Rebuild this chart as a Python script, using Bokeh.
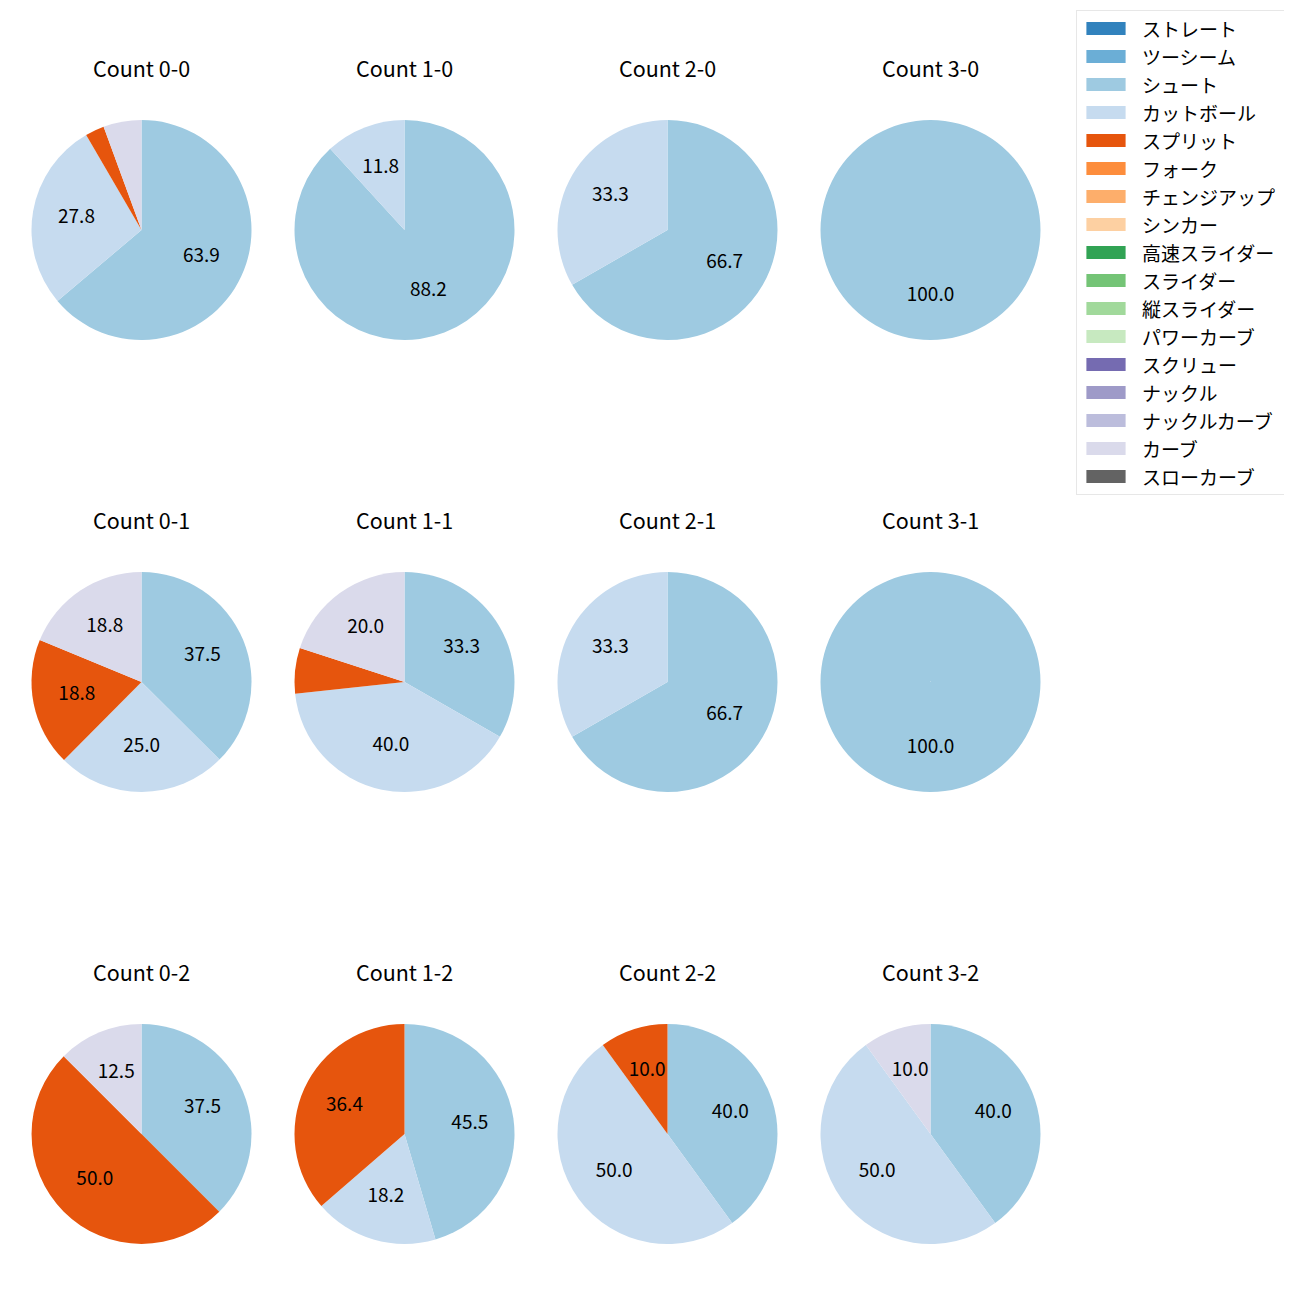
import numpy as np
from bokeh.plotting import figure
from bokeh.models import ColumnDataSource, Range1d, Legend, LegendItem
from bokeh.core.properties import value
from bokeh.embed import file_html
from bokeh.resources import INLINE

# ---- data -------------------------------------------------------------
counts = ["0-0", "1-0", "2-0", "3-0",
          "0-1", "1-1", "2-1", "3-1",
          "0-2", "1-2", "2-2", "3-2"]

pitch_types = ["ストレート", "ツーシーム", "シュート", "カットボール", "スプリット",
               "フォーク", "チェンジアップ", "シンカー", "高速スライダー", "スライダー",
               "縦スライダー", "パワーカーブ", "スクリュー", "ナックル", "ナックルカーブ",
               "カーブ", "スローカーブ"]
pitch_colors = ["#3182bd", "#6baed6", "#9ecae1", "#c6dbef", "#e6550d",
                "#fd8d3c", "#fdae6b", "#fdd0a2", "#31a354", "#74c476",
                "#a1d99b", "#c7e9c0", "#756bb1", "#9e9ac8", "#bcbddc",
                "#dadaeb", "#636363"]

# share (%) of each pitch type per count, in count order above
shoot = [63.9, 88.2, 66.7, 100.0, 37.5, 33.3, 66.7, 100.0, 37.5, 45.5, 40.0, 40.0]
cutball = [27.8, 11.8, 33.3, 0.0, 25.0, 40.0, 33.3, 0.0, 0.0, 18.2, 50.0, 50.0]
split = [2.8, 0.0, 0.0, 0.0, 18.8, 6.7, 0.0, 0.0, 50.0, 36.4, 10.0, 0.0]
curve = [5.6, 0.0, 0.0, 0.0, 18.8, 20.0, 0.0, 0.0, 12.5, 0.0, 0.0, 10.0]

series = {"シュート": shoot, "カットボール": cutball, "スプリット": split, "カーブ": curve}

# ---- layout (image pixel coordinates) ---------------------------------
W = H = 1284
ncols = 4
col_x0, col_dx = 141.0, 263.0
row_y0, row_dy = 229.5, 452.0
R = 110.0
title_dy = -162.5  # title centre relative to pie centre
FONT = "Noto Sans CJK JP"


def Y(img_y):
    return H - img_y


p = figure(width=W, height=H, output_backend="svg", toolbar_location=None,
           x_range=Range1d(0, W), y_range=Range1d(0, H),
           min_border=0, background_fill_color="white", border_fill_color="white")
p.axis.visible = False
p.grid.visible = False
p.outline_line_color = None

# wedges
wedge = {"x": [], "y": [], "start": [], "end": [], "color": []}
labels = {"x": [], "y": [], "text": []}
for i, c in enumerate(counts):
    cx = col_x0 + col_dx * (i % ncols)
    cy = row_y0 + row_dy * (i // ncols)
    vals = [(name, series[name][i]) for name in pitch_types if name in series]
    total = sum(v for _, v in vals)
    cum = 0.0
    for name, v in vals:
        if v <= 0:
            continue
        a0 = 90.0 - 360.0 * cum / total
        cum += v
        a1 = 90.0 - 360.0 * cum / total
        end = np.deg2rad(a0)
        start = np.deg2rad(a1)
        if v / total > 0.9999:
            start = end - 2 * np.pi + 1e-4
        wedge["x"].append(cx)
        wedge["y"].append(Y(cy))
        wedge["start"].append(start)
        wedge["end"].append(end)
        wedge["color"].append(pitch_colors[pitch_types.index(name)])
        if v >= 10:
            mid = np.deg2rad((a0 + a1) / 2.0)
            labels["x"].append(cx + 0.6 * R * np.cos(mid))
            labels["y"].append(Y(cy) + 0.6 * R * np.sin(mid))
            labels["text"].append(f"{v:.1f}")

p.wedge(x="x", y="y", radius=R, start_angle="start", end_angle="end",
        fill_color="color", line_color=None,
        source=ColumnDataSource(wedge))
p.text(x="x", y="y", text="text", source=ColumnDataSource(labels),
       text_align="center", text_baseline="middle", text_font=value(FONT),
       text_font_size="19px", text_color="black", y_offset=-2.5)

titles = {"x": [col_x0 + col_dx * (i % ncols) for i in range(len(counts))],
          "y": [Y(row_y0 + row_dy * (i // ncols) + title_dy) for i in range(len(counts))],
          "text": [f"Count {c}" for c in counts]}
p.text(x="x", y="y", text="text", source=ColumnDataSource(titles),
       text_align="center", text_baseline="middle", text_font=value(FONT),
       text_font_size="21.5px", text_color="black")

# legend proxies (not drawn in the plot area)
items = []
for name, col in zip(pitch_types, pitch_colors):
    r = p.quad(left=[np.nan], right=[np.nan], top=[np.nan], bottom=[np.nan],
               fill_color=col, line_color=None)
    items.append(LegendItem(label=name, renderers=[r]))

legend = Legend(items=items, location=(1076, H - 494.5), margin=0, padding=4,
                spacing=1, glyph_width=49, glyph_height=16, label_standoff=12,
                label_height=22, label_width=138,
                label_text_font=FONT, label_text_font_size="19px",
                label_text_color="black",
                border_line_color="#d0d0d0", border_line_width=1,
                background_fill_color="white", background_fill_alpha=0.8)
p.add_layout(legend)

open("out.html", "w").write(file_html(p, INLINE))
